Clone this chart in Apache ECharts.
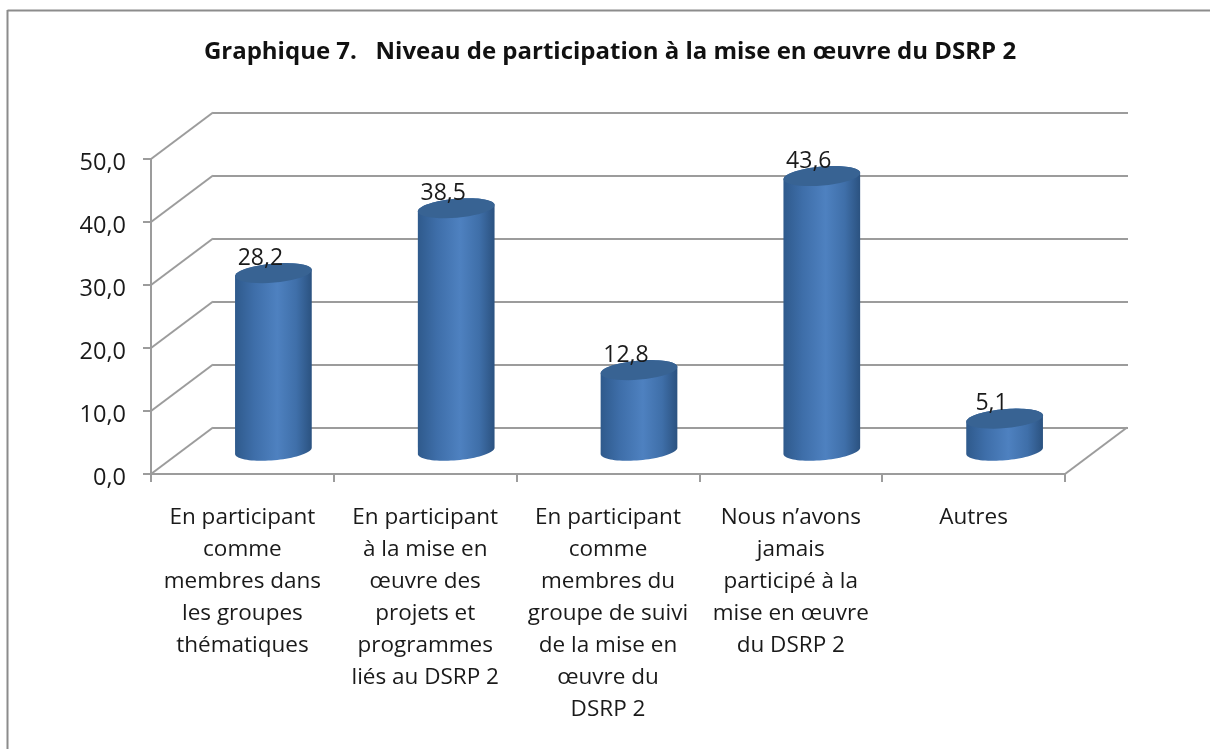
<!DOCTYPE html>
<html>
<head>
<meta charset="utf-8">
<title>Graphique 7</title>
<style>
    html, body { margin: 0; padding: 0; background: #fff; }
    #chart { width: 1210px; height: 749px; }
</style>
<script src="https://cdn.jsdelivr.net/npm/echarts@6/dist/echarts.min.js"></script>
</head>
<body>
<div id="chart"></div>
<script>
var titleText = 'Graphique 7.   Niveau de participation à la mise en œuvre du DSRP 2';
var categories = [
    'En participant\ncomme\nmembres dans\nles groupes\nthématiques',
    'En participant\nà la mise en\nœuvre des\nprojets et\nprogrammes\nliés au DSRP 2',
    'En participant\ncomme\nmembres du\ngroupe de suivi\nde la mise en\nœuvre du\nDSRP 2',
    'Nous n’avons\njamais\nparticipé à la\nmise en œuvre\ndu DSRP 2',
    'Autres'
];
var values = [28.2, 38.5, 12.8, 43.6, 5.1];
var yTicks = [0, 10, 20, 30, 40, 50];

var fontName = '"Open Sans"';
var lineColor = '#9c9c9c';
var textColor = '#1a1a1a';

/* depth of the fake 3D box */
var depthX = 62;
var depthY = -46.5;

function comma(v) {
    return v.toFixed(1).replace('.', ',');
}

/* oblique lines from the front axis to the back wall */
function renderDepthLine(params, api) {
    var y = api.coord([0, api.value(0)])[1];
    var box = params.coordSys;
    var children = [{
        type: 'line',
        shape: { x1: box.x, y1: y, x2: box.x + depthX, y2: y + depthY },
        style: { stroke: lineColor, lineWidth: 2 }
    }];
    if (api.value(0) === 0) {
        children.push({
            type: 'line',
            shape: { x1: box.x + box.width, y1: y, x2: box.x + box.width + depthX, y2: y + depthY },
            style: { stroke: lineColor, lineWidth: 2 }
        });
    }
    return { type: 'group', children: children };
}

function ellipsePoints(cx, cy, from, to) {
    var a = 38.5, b = 9.5, tilt = -5 * Math.PI / 180;
    var pts = [];
    for (var i = 0; i <= 40; i++) {
        var t = from + (to - from) * i / 40;
        pts.push([
            cx + a * Math.cos(t) * Math.cos(tilt) - b * Math.sin(t) * Math.sin(tilt),
            cy + a * Math.cos(t) * Math.sin(tilt) + b * Math.sin(t) * Math.cos(tilt)
        ]);
    }
    return pts;
}

/* cylinder, standing in the middle of the floor */
function renderCylinder(params, api) {
    var base = api.coord([api.value(0), 0]);
    var top = api.coord([api.value(0), api.value(1)]);
    var cx = base[0] + depthX / 2;
    var by = base[1] + depthY / 2;
    var ty = top[1] + depthY / 2;
    var outline = ellipsePoints(cx, by, 0, Math.PI).concat(ellipsePoints(cx, ty, Math.PI, 2 * Math.PI));
    return {
        type: 'group',
        children: [{
            type: 'polygon',
            shape: { points: outline },
            style: {
                fill: new echarts.graphic.LinearGradient(0, 0, 1, 0, [
                    { offset: 0, color: '#2f5a8c' },
                    { offset: 0.25, color: '#3e6ea9' },
                    { offset: 0.55, color: '#4e81c0' },
                    { offset: 0.8, color: '#3f6fa9' },
                    { offset: 1, color: '#2b5280' }
                ])
            }
        }, {
            type: 'polygon',
            shape: { points: ellipsePoints(cx, ty, 0, 2 * Math.PI) },
            style: { fill: '#386393' }
        }, {
            type: 'text',
            style: {
                x: cx - 13,
                y: ty - 15,
                text: comma(api.value(1)),
                align: 'center',
                verticalAlign: 'middle',
                fill: textColor,
                font: '23px ' + fontName
            }
        }]
    };
}

var chart = echarts.init(document.getElementById('chart'), null, { renderer: 'canvas' });

chart.setOption({
    animation: false,
    backgroundColor: '#fff',
    title: {
        text: titleText,
        left: 605,
        top: 35,
        textAlign: 'center',
        textStyle: { fontFamily: fontName, fontSize: 24, fontWeight: 'bold', color: '#111' }
    },
    graphic: [
        { type: 'line', shape: { x1: 7.5, y1: 10.5, x2: 1210, y2: 10.5 }, style: { stroke: '#8c8c8c', lineWidth: 2 } },
        { type: 'line', shape: { x1: 7.5, y1: 10, x2: 7.5, y2: 749 }, style: { stroke: '#8c8c8c', lineWidth: 2 } }
    ],
    grid: [
        { left: 151, top: 159, width: 914, height: 315 },
        { left: 151 + depthX, top: 159 + depthY, width: 915, height: 315 }
    ],
    xAxis: [{
        type: 'category',
        gridIndex: 0,
        data: categories,
        axisLine: { lineStyle: { color: lineColor, width: 2 } },
        axisTick: { show: true, length: 8, alignWithLabel: false, lineStyle: { color: lineColor, width: 2 } },
        axisLabel: {
            interval: 0,
            margin: 28,
            lineHeight: 32,
            fontFamily: fontName,
            fontSize: 22.5,
            color: textColor
        }
    }, {
        type: 'category',
        gridIndex: 1,
        data: categories,
        show: false
    }],
    yAxis: [{
        type: 'value',
        gridIndex: 0,
        min: yTicks[0],
        max: yTicks[yTicks.length - 1],
        interval: 10,
        axisLine: { show: true, lineStyle: { color: lineColor, width: 2 } },
        axisTick: { show: true, length: 8, lineStyle: { color: lineColor, width: 2 } },
        splitLine: { show: false },
        axisLabel: {
            margin: 25,
            verticalAlign: 'top',
            lineHeight: 8,
            fontFamily: fontName,
            fontSize: 23.5,
            color: textColor,
            formatter: function (v) { return comma(v); }
        }
    }, {
        type: 'value',
        gridIndex: 1,
        min: yTicks[0],
        max: yTicks[yTicks.length - 1],
        interval: 10,
        axisLine: { show: false },
        axisTick: { show: false },
        axisLabel: { show: false },
        splitLine: { show: true, lineStyle: { color: lineColor, width: 2 } }
    }],
    series: [{
        type: 'custom',
        xAxisIndex: 0,
        yAxisIndex: 0,
        z: 1,
        silent: true,
        renderItem: renderDepthLine,
        encode: { y: 0 },
        data: yTicks.map(function (v) { return [v]; })
    }, {
        type: 'custom',
        xAxisIndex: 0,
        yAxisIndex: 0,
        z: 5,
        renderItem: renderCylinder,
        encode: { x: 0, y: 1 },
        data: values.map(function (v, i) { return [i, v]; })
    }]
});
</script>
</body>
</html>
